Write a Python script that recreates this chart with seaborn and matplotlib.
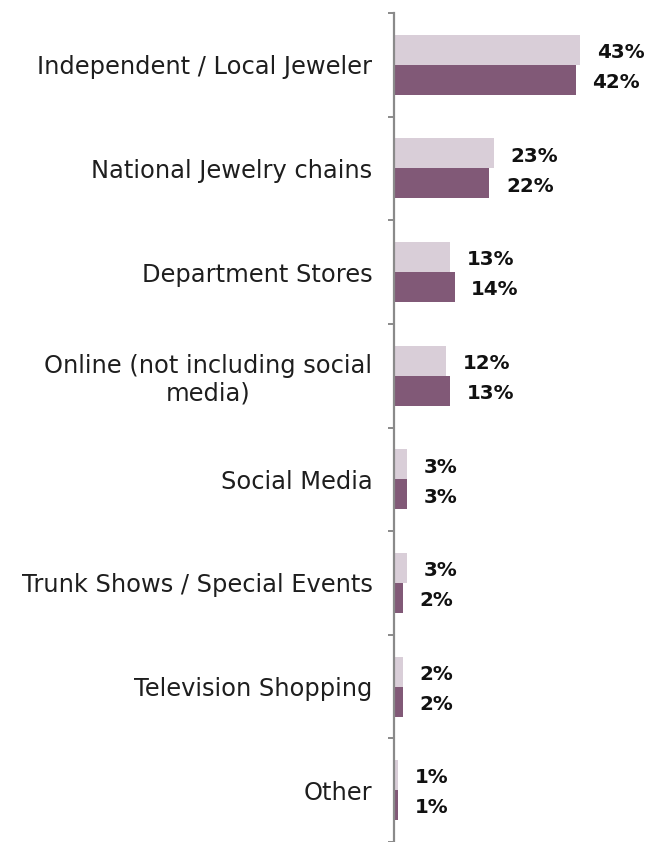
import numpy as np
import pandas as pd
import matplotlib
matplotlib.use("Agg")
import matplotlib.pyplot as plt
import seaborn as sns

categories = [
    "Independent / Local Jeweler",
    "National Jewelry chains",
    "Department Stores",
    "Online (not including social\nmedia)",
    "Social Media",
    "Trunk Shows / Special Events",
    "Television Shopping",
    "Other",
]
series_names = ["Wave 1", "Wave 2"]
wave1_values = [43, 23, 13, 12, 3, 3, 2, 1]
wave2_values = [42, 22, 14, 13, 3, 2, 2, 1]

df = pd.DataFrame({
    "channel": categories * 2,
    "wave": [series_names[0]] * len(categories) + [series_names[1]] * len(categories),
    "share": wave1_values + wave2_values,
})

sns.set_theme(style="white")
plt.rcParams["font.family"] = ["DejaVu Sans"]

W, H = 649, 842
fig = plt.figure(figsize=(W / 100, H / 100), dpi=100)
ax = fig.add_axes([394 / W, 0.0, 1 - 394 / W, 1 - 13 / H])

palette = {series_names[0]: "#D9CED8", series_names[1]: "#815977"}
sns.barplot(
    data=df, y="channel", x="share", hue="wave", order=categories,
    hue_order=series_names, palette=palette, orient="h", width=0.58,
    saturation=1, legend=False, ax=ax, linewidth=0,
)

# value labels just right of each bar, nudged slightly below bar centre
for container in ax.containers:
    labels = ax.bar_label(container, fmt="%.0f%%", padding=12.0, fontsize=14.3,
                          fontweight="bold", color="#111111")
    for ann in labels:
        ann.xyann = (12.0, -2.0)

ax.set_xlim(0, 58.9)
ax.set_ylim(7.471, -0.5)
ax.set_xlabel("")
ax.set_ylabel("")
ax.set_xticks([])

for side in ["top", "right", "bottom"]:
    ax.spines[side].set_visible(False)
ax.spines["left"].set_color("#8A8A8A")
ax.spines["left"].set_linewidth(1.6)

ax.tick_params(axis="y", which="major", length=0, pad=15.5, labelsize=17.4,
               labelcolor="#1E1E1E")
ax.set_yticks(np.arange(-0.5, len(categories), 1.0), minor=True)
ax.tick_params(axis="y", which="minor", length=4.5, width=1.4, color="#8A8A8A",
               direction="out", left=True)
for lbl in ax.get_yticklabels():
    lbl.set_multialignment("center")

fig.savefig("out.png", dpi=100, facecolor="white")
